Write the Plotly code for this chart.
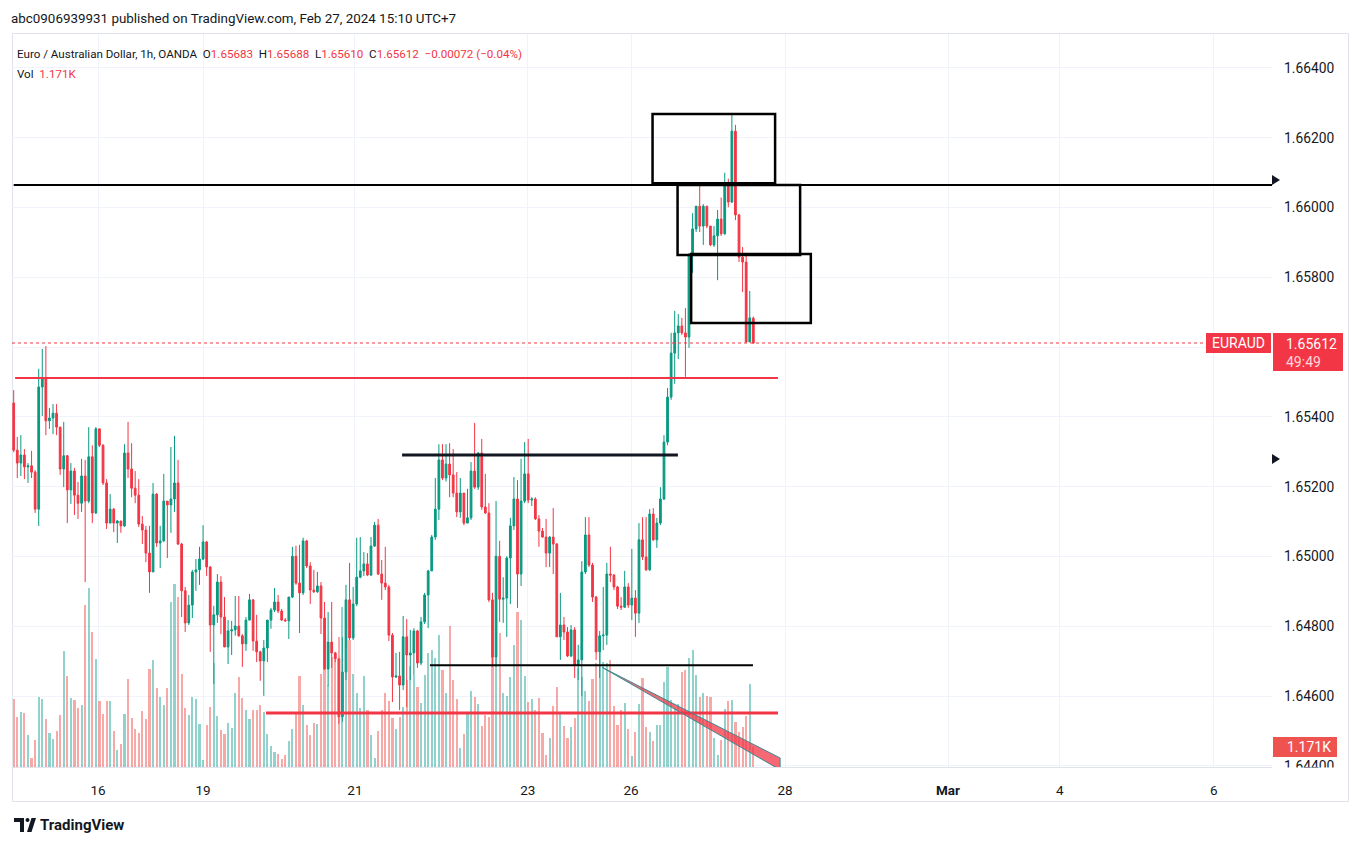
import plotly.graph_objects as go

# ---------------- data (EUR/AUD, 1h, OANDA) ----------------
first_open = 1.65440
last_open = 1.65683
close = [1.65305, 1.65268, 1.65291, 1.65257, 1.65260, 1.65242, 1.65136, 1.65486, 1.65509, 1.65389,
         1.65397, 1.65411, 1.65371, 1.65251, 1.65289, 1.65191, 1.65245, 1.65176, 1.65153, 1.65231,
         1.65159, 1.65286, 1.65125, 1.65366, 1.65319, 1.65211, 1.65096, 1.65136, 1.65096, 1.65102,
         1.65088, 1.65297, 1.65251, 1.65196, 1.65176, 1.65093, 1.65076, 1.65010, 1.64956, 1.65179,
         1.65039, 1.65045, 1.65159, 1.65148, 1.65165, 1.65211, 1.65036, 1.64902, 1.64810, 1.64861,
         1.64956, 1.64962, 1.64993, 1.65042, 1.64970, 1.64804, 1.64833, 1.64927, 1.64827, 1.64741,
         1.64787, 1.64790, 1.64801, 1.64773, 1.64750, 1.64818, 1.64876, 1.64758, 1.64727, 1.64701,
         1.64738, 1.64818, 1.64847, 1.64870, 1.64844, 1.64818, 1.64816, 1.64884, 1.65001, 1.64924,
         1.64896, 1.65045, 1.64973, 1.64904, 1.64899, 1.64916, 1.64824, 1.64678, 1.64755, 1.64724,
         1.64707, 1.64541, 1.64669, 1.64876, 1.64767, 1.64864, 1.64941, 1.64959, 1.64979, 1.64947,
         1.65030, 1.65090, 1.64950, 1.64924, 1.64913, 1.64775, 1.64655, 1.64658, 1.64632, 1.64770,
         1.64718, 1.64724, 1.64787, 1.64695, 1.64813, 1.64890, 1.64959, 1.65056, 1.65136, 1.65277,
         1.65225, 1.65265, 1.65234, 1.65182, 1.65128, 1.65182, 1.65096, 1.65111, 1.65245, 1.65199,
         1.65297, 1.65142, 1.65125, 1.64876, 1.64712, 1.65001, 1.64878, 1.64881, 1.64996, 1.65088,
         1.65165, 1.64950, 1.65159, 1.65237, 1.65162, 1.65165, 1.65108, 1.65073, 1.65056, 1.65010,
         1.65056, 1.65036, 1.64770, 1.64804, 1.64784, 1.64715, 1.64790, 1.64689, 1.64704, 1.64956,
         1.65062, 1.64976, 1.64884, 1.64727, 1.64773, 1.64775, 1.64950, 1.64947, 1.64913, 1.64858,
         1.64855, 1.64913, 1.64861, 1.64881, 1.64838, 1.65048, 1.64999, 1.64962, 1.65122, 1.65048,
         1.65096, 1.65165, 1.65328, 1.65457, 1.65583, 1.65641, 1.65661, 1.65641, 1.65629, 1.65864,
         1.65939, 1.66004, 1.65947, 1.66004, 1.65947, 1.65893, 1.65919, 1.65967, 1.65925, 1.66064,
         1.66016, 1.66219, 1.65979, 1.65858, 1.65844, 1.65615, 1.65684, 1.65612]
high = [1.65477, 1.65343, 1.65348, 1.65308, 1.65268, 1.65303, 1.65248, 1.65538, 1.65595, 1.65603,
        1.65426, 1.65437, 1.65437, 1.65371, 1.65386, 1.65291, 1.65268, 1.65254, 1.65214, 1.65280,
        1.65277, 1.65371, 1.65319, 1.65371, 1.65366, 1.65322, 1.65222, 1.65179, 1.65139, 1.65105,
        1.65102, 1.65322, 1.65386, 1.65325, 1.65245, 1.65222, 1.65116, 1.65088, 1.65088, 1.65211,
        1.65182, 1.65088, 1.65237, 1.65159, 1.65314, 1.65346, 1.65277, 1.65039, 1.64913, 1.64890,
        1.64962, 1.64993, 1.65028, 1.65090, 1.65045, 1.64973, 1.64859, 1.64950, 1.64944, 1.64884,
        1.64818, 1.64816, 1.64887, 1.64887, 1.64778, 1.64827, 1.64893, 1.64878, 1.64833, 1.64730,
        1.64761, 1.64818, 1.64853, 1.64910, 1.64890, 1.64850, 1.64824, 1.64884, 1.65028, 1.65031,
        1.65034, 1.65054, 1.65048, 1.64984, 1.64962, 1.64956, 1.64927, 1.64870, 1.64841, 1.64870,
        1.64727, 1.64710, 1.64769, 1.64919, 1.64982, 1.64913, 1.65054, 1.65056, 1.65013, 1.65010,
        1.65056, 1.65099, 1.65108, 1.64990, 1.65028, 1.64919, 1.64781, 1.64724, 1.64727, 1.64830,
        1.64821, 1.64790, 1.64795, 1.64790, 1.64827, 1.64896, 1.64962, 1.65062, 1.65225, 1.65322,
        1.65322, 1.65322, 1.65325, 1.65308, 1.65242, 1.65225, 1.65182, 1.65194, 1.65271, 1.65383,
        1.65299, 1.65337, 1.65237, 1.65153, 1.64896, 1.65159, 1.65045, 1.64941, 1.65001, 1.65111,
        1.65228, 1.65219, 1.65280, 1.65328, 1.65337, 1.65170, 1.65170, 1.65119, 1.65082, 1.65108,
        1.65059, 1.65139, 1.65039, 1.64896, 1.64827, 1.64798, 1.64804, 1.64798, 1.64747, 1.64987,
        1.65113, 1.65113, 1.64982, 1.64887, 1.64787, 1.64913, 1.64982, 1.65028, 1.64950, 1.64916,
        1.64884, 1.64959, 1.64924, 1.65022, 1.64904, 1.65096, 1.65113, 1.65113, 1.65136, 1.65139,
        1.65111, 1.65199, 1.65348, 1.65483, 1.65641, 1.65704, 1.65695, 1.65684, 1.65712, 1.65870,
        1.65984, 1.66004, 1.66070, 1.66010, 1.66004, 1.65947, 1.65947, 1.65993, 1.66029, 1.66100,
        1.66083, 1.66268, 1.66237, 1.65982, 1.65887, 1.65867, 1.65761, 1.65688]
low = [1.65299, 1.65225, 1.65231, 1.65222, 1.65211, 1.65225, 1.65125, 1.65088, 1.65403, 1.65348,
       1.65366, 1.65351, 1.65348, 1.65234, 1.65199, 1.65096, 1.65151, 1.65119, 1.65108, 1.65128,
       1.64927, 1.65153, 1.65096, 1.65122, 1.65314, 1.65205, 1.65079, 1.65096, 1.65070, 1.65039,
       1.65068, 1.65085, 1.65225, 1.65170, 1.65153, 1.65085, 1.65036, 1.64984, 1.64896, 1.64956,
       1.65028, 1.64967, 1.65042, 1.64996, 1.65068, 1.65128, 1.65033, 1.64827, 1.64784, 1.64804,
       1.64824, 1.64902, 1.64919, 1.64990, 1.64944, 1.64727, 1.64635, 1.64810, 1.64778, 1.64741,
       1.64692, 1.64718, 1.64773, 1.64770, 1.64684, 1.64730, 1.64818, 1.64730, 1.64698, 1.64644,
       1.64601, 1.64698, 1.64793, 1.64841, 1.64838, 1.64816, 1.64813, 1.64764, 1.64881, 1.64919,
       1.64781, 1.64890, 1.64967, 1.64864, 1.64896, 1.64896, 1.64778, 1.64675, 1.64629, 1.64681,
       1.64698, 1.64521, 1.64527, 1.64646, 1.64761, 1.64761, 1.64858, 1.64938, 1.64944, 1.64944,
       1.64944, 1.65028, 1.64947, 1.64876, 1.64904, 1.64758, 1.64583, 1.64652, 1.64560, 1.64618,
       1.64569, 1.64646, 1.64661, 1.64681, 1.64689, 1.64807, 1.64795, 1.64959, 1.65048, 1.65105,
       1.65219, 1.65215, 1.65170, 1.65170, 1.65113, 1.65111, 1.65090, 1.65096, 1.65105, 1.65194,
       1.65191, 1.65134, 1.65122, 1.64870, 1.64684, 1.64684, 1.64813, 1.64810, 1.64770, 1.64864,
       1.65076, 1.64853, 1.64916, 1.65153, 1.65153, 1.65145, 1.65105, 1.65028, 1.65054, 1.64970,
       1.64970, 1.64950, 1.64770, 1.64704, 1.64761, 1.64712, 1.64712, 1.64652, 1.64646, 1.64601,
       1.64950, 1.64970, 1.64870, 1.64704, 1.64652, 1.64732, 1.64747, 1.64927, 1.64904, 1.64850,
       1.64847, 1.64853, 1.64853, 1.64818, 1.64770, 1.64810, 1.64990, 1.64959, 1.64959, 1.65045,
       1.65025, 1.65090, 1.65162, 1.65319, 1.65449, 1.65495, 1.65566, 1.65635, 1.65515, 1.65598,
       1.65813, 1.65930, 1.65930, 1.65893, 1.65941, 1.65890, 1.65887, 1.65792, 1.65919, 1.65922,
       1.66001, 1.66013, 1.65964, 1.65844, 1.65758, 1.65612, 1.65632, 1.65610]
volume = [3980, 2930, 3220, 3160, 1870, 530, 1580, 4100, 3980, 2810,
          1990, 1640, 2110, 3040, 6790, 5320, 4040, 3920, 3450, 3630,
          9480, 10470, 7900, 6320, 3860, 3100, 3860, 3860, 2110, 990,
          1350, 3100, 5150, 2870, 2220, 1990, 3280, 2810, 5730, 6260,
          4620, 4100, 3630, 4620, 9650, 10710, 9950, 5440, 3450, 3040,
          4100, 3980, 2520, 410, 2460, 3510, 6080, 2980, 2160, 1930,
          2570, 2280, 4330, 5270, 4040, 3330, 2810, 3330, 3330, 3630,
          3220, 1930, 1230, 880, 760, 470, 700, 1520, 2220, 3160,
          5320, 3630, 2460, 1870, 2570, 2520, 5440, 5850, 4800, 6440,
          6260, 7610, 9360, 7020, 7430, 5440, 4330, 3450, 5320, 3330,
          1870, 530, 2110, 3330, 4330, 3860, 2870, 2220, 2930, 3510,
          5090, 5910, 5380, 4680, 3740, 5380, 6670, 6840, 6380, 7720,
          5670, 4330, 8250, 5090, 3980, 1110, 1930, 3100, 4450, 4100,
          3690, 2400, 3040, 2930, 6440, 6440, 7840, 4330, 4150, 5270,
          7140, 9070, 8600, 5320, 3800, 3980, 3330, 4040, 1990, 700,
          1700, 3570, 4680, 3100, 2400, 1700, 2340, 2870, 5790, 5270,
          4450, 3860, 5150, 6080, 6790, 6140, 6080, 6260, 3570, 2460,
          3330, 3740, 2220, 640, 2050, 3690, 5210, 2340, 2050, 1520,
          2460, 2460, 4970, 5850, 3920, 3450, 3690, 5560, 5670, 6380,
          6840, 5380, 4100, 4330, 4150, 4100, 1700, 700, 1580, 3390,
          3860, 3920, 2630, 2050, 2340, 2980, 4860, 1171]

# time-axis labels (bar-index positions)
day_pos = [23.6, 53.0, 95.5, 143.9, 172.8, 215.9, 261.5, 292.8, 335.9]
day_text = ["16", "19", "21", "23", "26", "28", "<b>Mar</b>", "4", "6"]
price_ticks = [1.644, 1.646, 1.648, 1.650, 1.652, 1.654, 1.656, 1.658, 1.660, 1.662, 1.664]
hidden_ticks = [1.656]   # covered by the last-price label

# drawings: horizontal levels (bar start, bar end, price, colour, width)
levels = [
    (0.4, 213.9, 1.65512, "#F23645", 2),
    (108.7, 185.9, 1.65291, "#131722", 3),
    (116.5, 206.9, 1.64689, "#000000", 2),
    (70.6, 213.9, 1.64552, "#F23645", 3),
]
ray_price = 1.66065
boxes = [  # (bar start, bar end, top price, bottom price)
    (178.8, 213.1, 1.66268, 1.66070),
    (185.8, 220.1, 1.66065, 1.65864),
    (189.6, 223.1, 1.65867, 1.65669),
]
wedge = [(164.8, 1.64682), (214.5, 1.64423), (214.5, 1.64389)]

# ---------------- derived ----------------
n = len(close)
idx = list(range(n))
opens = [first_open] + close[:-1]
opens[-1] = last_open
highs = [max(h, o, c) for h, o, c in zip(high, opens, close)]
lows = [min(l, o, c) for l, o, c in zip(low, opens, close)]
UP, DN = "#089981", "#F23645"
vol_colors = ["rgba(38,166,154,0.5)" if c >= o else "rgba(239,83,80,0.5)" for o, c in zip(opens, close)]

# geometry helpers (pixel -> paper)
PL, PR, PT, PB = 12, 1272, 34, 767
def xp(px):
    return (px - PL) / (PR - PL)
def yp(py):
    return (PB - py) / (PB - PT)

fig = go.Figure()
fig.add_trace(go.Bar(x=idx, y=volume, yaxis="y2", marker=dict(color=vol_colors, line_width=0),
                     width=0.6, hoverinfo="skip"))
fig.add_trace(go.Candlestick(x=idx, open=opens, high=highs, low=lows, close=close,
                             increasing=dict(line=dict(color=UP, width=1), fillcolor=UP),
                             decreasing=dict(line=dict(color=DN, width=1), fillcolor=DN),
                             whiskerwidth=0))

shapes = []
shapes.append(dict(type="rect", xref="paper", yref="paper", x0=xp(12.5), x1=xp(1348.5), y0=yp(801.5), y1=yp(33.5),
                   line=dict(color="#e0e3eb", width=1), layer="below"))
shapes.append(dict(type="line", xref="paper", yref="y", x0=0, x1=1, y0=close[-1], y1=close[-1],
                   line=dict(color=DN, width=1, dash="dot"), layer="above"))
for x0, x1, p, col, w in levels:
    shapes.append(dict(type="line", xref="x", yref="y", x0=x0, x1=x1, y0=p, y1=p,
                       line=dict(color=col, width=w), layer="above"))
shapes.append(dict(type="line", xref="x", yref="y", x0=0.0, x1=352.2, y0=ray_price, y1=ray_price,
                   line=dict(color="#000000", width=2), layer="above"))
for x0, x1, t, b in boxes:
    shapes.append(dict(type="rect", xref="x", yref="y", x0=x0, x1=x1, y0=b, y1=t,
                       line=dict(color="#000000", width=2.5), layer="above"))
path = "M {} {} L {} {} L {} {} Z".format(wedge[0][0], wedge[0][1], wedge[1][0], wedge[1][1], wedge[2][0], wedge[2][1])
shapes.append(dict(type="path", xref="x", yref="y", path=path, fillcolor="rgba(242,54,69,0.75)",
                   line=dict(color="#3d8c93", width=1), layer="above"))
for py in (180, 459):
    shapes.append(dict(type="path", xref="paper", yref="paper",
                       path="M {} {} L {} {} L {} {} Z".format(xp(1272), yp(py - 5), xp(1280), yp(py), xp(1272), yp(py + 5)),
                       fillcolor="#131722", line=dict(width=0), layer="above"))
shapes.append(dict(type="rect", xref="paper", yref="paper", x0=xp(1273), x1=xp(1348), y0=yp(800), y1=yp(767.5),
                   fillcolor="white", line=dict(width=0), layer="above"))
shapes.append(dict(type="rect", xref="paper", yref="paper", x0=xp(1206), x1=xp(1271), y0=yp(353), y1=yp(333),
                   fillcolor=DN, line=dict(width=0), layer="above"))
shapes.append(dict(type="rect", xref="paper", yref="paper", x0=xp(1273), x1=xp(1343), y0=yp(371), y1=yp(333),
                   fillcolor=DN, line=dict(width=0), layer="above"))
shapes.append(dict(type="rect", xref="paper", yref="paper", x0=xp(1273), x1=xp(1337), y0=yp(757), y1=yp(737),
                   fillcolor="#ef5350", line=dict(width=0), layer="above"))
# TradingView logo mark
def P(pts):
    return "M " + " L ".join("{} {}".format(xp(a), yp(b)) for a, b in pts) + " Z"
shapes.append(dict(type="path", xref="paper", yref="paper",
                   path=P([(14, 818), (24, 818), (24, 832), (20, 832), (20, 822), (14, 822)]),
                   fillcolor="#131722", line=dict(width=0), layer="above"))
shapes.append(dict(type="circle", xref="paper", yref="paper", x0=xp(25.5), x1=xp(29.5), y0=yp(822), y1=yp(818),
                   fillcolor="#131722", line=dict(width=0), layer="above"))
shapes.append(dict(type="path", xref="paper", yref="paper",
                   path=P([(31.5, 818), (36, 818), (31.5, 832), (27, 832)]),
                   fillcolor="#131722", line=dict(width=0), layer="above"))

F = "Roboto"
TXT = "#131722"
ann = []
def A(px, py, text, size=13, color=TXT, xanchor="left", **kw):
    ann.append(dict(xref="paper", yref="paper", x=xp(px), y=yp(py), text=text, showarrow=False,
                    xanchor=xanchor, yanchor="middle", font=dict(family=F, size=size, color=color), **kw))

A(9, 18, "abc0906939931 published on TradingView.com, Feb 27, 2024 15:10 UTC+7", size=13.4)
o, h, l, c = opens[-1], highs[-1], lows[-1], close[-1]
chg = c - close[-2]
red = lambda s: "<span style='color:%s'>%s</span>" % (DN, s)
legend = ("Euro / Australian Dollar, 1h, OANDA  O" + red("%.5f" % o) + "  H" + red("%.5f" % h) +
          "  L" + red("%.5f" % l) + "  C" + red("%.5f" % c) + "  " +
          red("\u2212%.5f (\u2212%.2f%%)" % (abs(chg), abs(chg) / close[-2] * 100)))
A(15, 54, legend, size=11.6)
A(15, 74, "Vol  " + red("%.3fK" % (volume[-1] / 1000)), size=11.6)
A(1238.5, 343, "EURAUD", size=14, color="white", xanchor="center")
A(1284, 344, "%.5f" % c, size=14, color="white")
A(1284, 362, "49:49", size=14, color="#ffd6d9")
A(1285, 747, "%.3fK" % (volume[-1] / 1000), size=14, color="white")
A(38, 825, "<b>TradingView</b>", size=15)

fig.update_layout(
    width=1363, height=846, margin=dict(l=PL, r=1363 - PR, t=PT, b=846 - PB),
    paper_bgcolor="white", plot_bgcolor="white", showlegend=False,
    font=dict(family=F, size=13, color=TXT),
    xaxis=dict(range=[-0.476, 352.17], tickvals=day_pos, ticktext=day_text, showgrid=True,
               gridcolor="#f0f3fa", gridwidth=1, zeroline=False, rangeslider=dict(visible=False),
               showline=True, linecolor="#e0e3eb", ticks="", ticklabelstandoff=11,
               tickfont=dict(family=F, size=13.5, color=TXT)),
    yaxis=dict(range=[1.643971, 1.664974], side="right", tickvals=price_ticks,
               ticktext=["" if t in hidden_ticks else "%.5f" % t for t in price_ticks],
               showgrid=True, gridcolor="#f0f3fa", zeroline=False, ticks="", ticklabelstandoff=11,
               tickfont=dict(family=F, size=13.8, color=TXT)),
    yaxis2=dict(range=[0, 42880], overlaying="y", visible=False),
    shapes=shapes, annotations=ann, bargap=0,
)
fig.write_html("out.html")
